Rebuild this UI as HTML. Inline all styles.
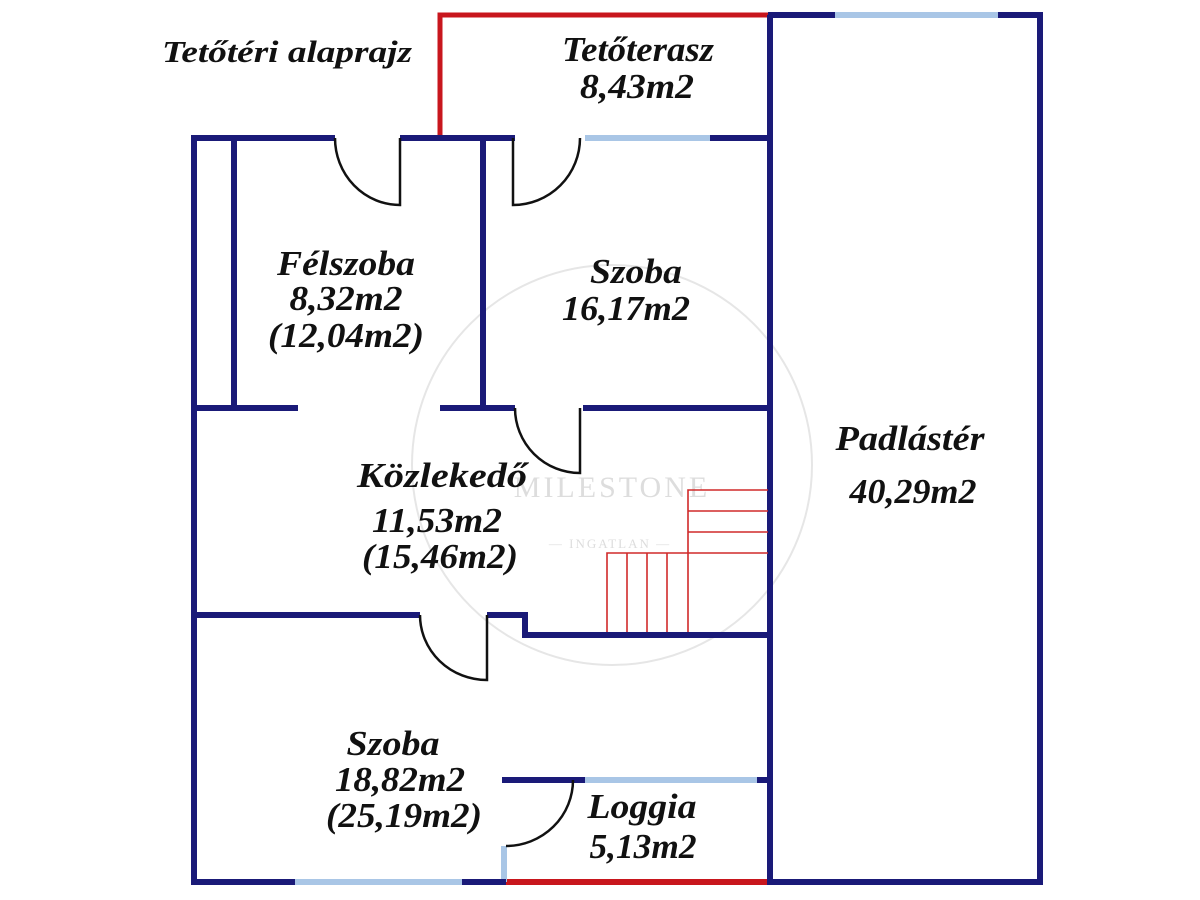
<!DOCTYPE html>
<html><head><meta charset="utf-8"><style>
html,body{margin:0;padding:0;background:#fff}
svg{display:block}
text{font-family:"Liberation Serif",serif;font-style:italic;font-weight:bold;font-size:35px;fill:#111;text-anchor:middle}
</style></head><body>
<svg width="1200" height="900" viewBox="0 0 1200 900">
<rect width="1200" height="900" fill="#fff"/>
<circle cx="612" cy="465" r="200" fill="none" stroke="#e6e6e6" stroke-width="2"/>
<text x="612" y="497" style="font-style:normal;font-weight:normal;font-size:30px;fill:#ddd;letter-spacing:3px">MILESTONE</text>
<text x="610" y="548" style="font-style:normal;font-weight:normal;font-size:13px;fill:#ddd;letter-spacing:2px">— INGATLAN —</text>
<g fill="none" stroke-linecap="butt">
<path d="M440 138 V15 H770" stroke="#c8161d" stroke-width="5"/>
<path d="M506 882 H768" stroke="#c8161d" stroke-width="6"/>
<g stroke="#a9c6e6" stroke-width="6">
<path d="M835 15 H998"/><path d="M585 138 H710"/><path d="M585 780 H757"/><path d="M295 882 H462"/><path d="M504 846 V882"/>
</g>
<g stroke="#1a1a78" stroke-width="6">
<path d="M194 135 V885"/>
<path d="M191 882 H295"/><path d="M462 882 H506"/><path d="M768 882 H1043"/>
<path d="M1040 12 V885"/><path d="M770 15 V885"/>
<path d="M768 15 H835"/><path d="M998 15 H1043"/>
<path d="M191 138 H335"/><path d="M400 138 H483"/><path d="M483 138 H515"/><path d="M710 138 H770"/>
<path d="M234 138 V408"/><path d="M483 138 V408"/>
<path d="M194 408 H298"/><path d="M440 408 H515"/><path d="M583 408 H770"/>
<path d="M194 615 H420"/><path d="M487 615 H525 V635 H770"/>
<path d="M502 780 H585"/><path d="M757 780 H770"/>
</g>
<g stroke="#111" stroke-width="2.5">
<path d="M335 138 A65 67 0 0 0 400 205 V138"/>
<path d="M513 138 V205 A67 67 0 0 0 580 138"/>
<path d="M515 408 A65 65 0 0 0 580 473 V408"/>
<path d="M420 615 A67 65 0 0 0 487 680 V615"/>
<path d="M573 780 A67 66 0 0 1 506 846"/>
</g>
<g stroke="#d02a2a" stroke-width="1.6">
<path d="M607 632 V553 H688"/><path d="M627 553 V632"/><path d="M647 553 V632"/><path d="M667 553 V632"/>
<path d="M688 632 V490 H768"/><path d="M688 511 H768"/><path d="M688 532 H768"/><path d="M688 553 H768"/>
</g>
</g>
<g>
<text x="287" y="62" textLength="250" lengthAdjust="spacingAndGlyphs" style="font-size:31px">Tetőtéri alaprajz</text>
<text x="638" y="61" textLength="152" lengthAdjust="spacingAndGlyphs">Tetőterasz</text>
<text x="637" y="98" textLength="114" lengthAdjust="spacingAndGlyphs">8,43m2</text>
<text x="346" y="275" textLength="138" lengthAdjust="spacingAndGlyphs">Félszoba</text>
<text x="346" y="310" textLength="113" lengthAdjust="spacingAndGlyphs">8,32m2</text>
<text x="346" y="347" textLength="156" lengthAdjust="spacingAndGlyphs">(12,04m2)</text>
<text x="636" y="283" textLength="92" lengthAdjust="spacingAndGlyphs">Szoba</text>
<text x="626" y="320" textLength="128" lengthAdjust="spacingAndGlyphs">16,17m2</text>
<text x="442" y="487" textLength="170" lengthAdjust="spacingAndGlyphs">Közlekedő</text>
<text x="437" y="532" textLength="130" lengthAdjust="spacingAndGlyphs">11,53m2</text>
<text x="440" y="568" textLength="156" lengthAdjust="spacingAndGlyphs">(15,46m2)</text>
<text x="910" y="450" textLength="149" lengthAdjust="spacingAndGlyphs">Padlástér</text>
<text x="913" y="503" textLength="127" lengthAdjust="spacingAndGlyphs">40,29m2</text>
<text x="393" y="755" textLength="93" lengthAdjust="spacingAndGlyphs">Szoba</text>
<text x="400" y="791" textLength="130" lengthAdjust="spacingAndGlyphs">18,82m2</text>
<text x="404" y="827" textLength="156" lengthAdjust="spacingAndGlyphs">(25,19m2)</text>
<text x="642" y="818" textLength="109" lengthAdjust="spacingAndGlyphs">Loggia</text>
<text x="643" y="858" textLength="107" lengthAdjust="spacingAndGlyphs">5,13m2</text>
</g>
</svg>
</body></html>
